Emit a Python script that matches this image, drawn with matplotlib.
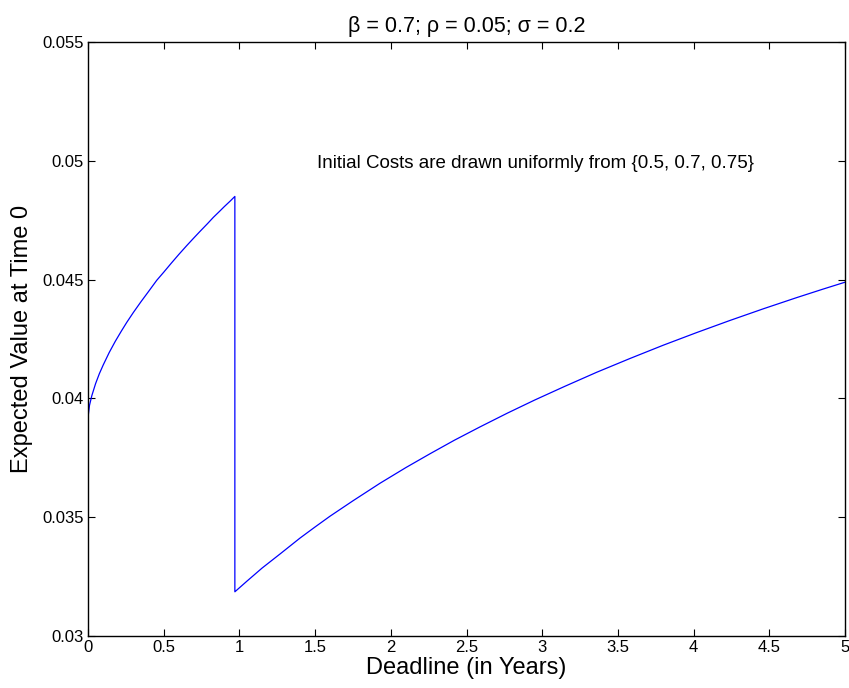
import numpy as np
import matplotlib
matplotlib.use('Agg')
import matplotlib.pyplot as plt

plt.rcParams['font.family'] = ['Liberation Sans', 'DejaVu Sans']

# values
# branch 1: deadline below ~1 year
deadline_a = [0.0, 0.01, 0.025, 0.05, 0.075, 0.10, 0.14, 0.18, 0.22, 0.256,
              0.30, 0.35, 0.40, 0.454, 0.50, 0.55, 0.60, 0.652, 0.70, 0.74,
              0.79, 0.828, 0.87, 0.90, 0.94, 0.97]
value_a = [0.03920, 0.03971, 0.04011, 0.04062, 0.04104, 0.04140, 0.04193,
           0.04240, 0.04283, 0.04320, 0.04362, 0.04407, 0.04450, 0.04497,
           0.04531, 0.04569, 0.04606, 0.04643, 0.04676, 0.04703, 0.04736,
           0.04762, 0.04788, 0.04807, 0.04831, 0.04850]
# branch 2: deadline above ~1 year
deadline_b = [0.97, 1.05, 1.15, 1.268, 1.40, 1.50, 1.598, 1.75, 1.929, 2.10,
              2.259, 2.42, 2.589, 2.77, 2.95, 3.15, 3.36, 3.58, 3.80, 4.02,
              4.24, 4.46, 4.68, 4.85, 5.0]
value_b = [0.03186, 0.03231, 0.03286, 0.03345, 0.03412, 0.03459, 0.03504,
           0.03569, 0.03643, 0.03709, 0.03767, 0.03824, 0.03880, 0.03938,
           0.03993, 0.04051, 0.04110, 0.04168, 0.04224, 0.04277, 0.04328,
           0.04377, 0.04424, 0.04459, 0.04489]

x = np.concatenate([deadline_a, deadline_b])
y = np.concatenate([value_a, value_b])

fig = plt.figure(figsize=(8.49, 6.88), dpi=100)
ax = fig.add_axes([88/849, 52/688, 757/849, 594/688])

ax.plot(x, y, color='#0000ff', lw=0.9)

ax.set_xlim(0, 5)
ax.set_ylim(0.03, 0.055)
ax.set_xticks(np.arange(0, 5.01, 0.5))
ax.set_xticklabels(['0', '0.5', '1', '1.5', '2', '2.5', '3', '3.5', '4', '4.5', '5'])
ax.set_yticks([0.03, 0.035, 0.04, 0.045, 0.05, 0.055])
ax.set_yticklabels(['0.03', '0.035', '0.04', '0.045', '0.05', '0.055'])
ax.tick_params(direction='in', top=True, right=True, length=5, width=0.8,
               labelsize=12, pad=3)
for s in ax.spines.values():
    s.set_linewidth(1.0)

ax.set_xlabel('Deadline (in Years)', fontsize=17, labelpad=1)
ax.set_ylabel('Expected Value at Time 0', fontsize=17, labelpad=7)
ax.set_title('β = 0.7; ρ = 0.05; σ = 0.2', fontsize=15.5, pad=7)

ax.text(1.51, 0.0499, 'Initial Costs are drawn uniformly from {0.5, 0.7, 0.75}',
        fontsize=13.5, ha='left', va='center')

fig.savefig('out.png', dpi=100)
